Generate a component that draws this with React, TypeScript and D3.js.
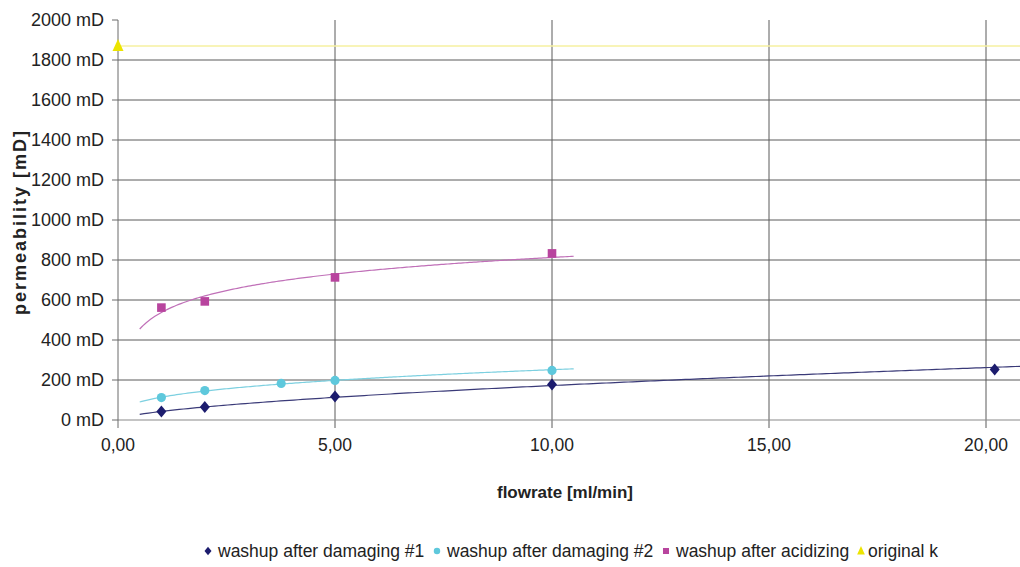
import React from "react";
import * as d3 from "d3";

const W = 1020;
const H = 567;

const yTicks = [0, 200, 400, 600, 800, 1000, 1200, 1400, 1600, 1800, 2000];
const xTicks = [0, 5, 10, 15, 20];

const s1X = [1, 2, 5, 10, 20.2];
const s1Y = [42, 65, 117, 178, 253];
const s2X = [1, 2, 3.76, 5, 10];
const s2Y = [112, 147, 183, 198, 248];
const s3X = [1, 2, 5, 10];
const s3Y = [562, 593, 713, 833];
const origX = [0];
const origY = [1870];

const seriesNames = ["washup after damaging #1", "washup after damaging #2", "washup after acidizing", "original k"];
const colors = ["#1c1c6e", "#5ec8dc", "#b8449e", "#ece400"];
const lineColors = ["#3a3a78", "#7dd0e0", "#c070b8", "#f6f0a0"];

function fit(xs: number[], ys: number[], kind: "log" | "power") {
  const lx = xs.map(Math.log);
  const ly = kind === "power" ? ys.map(Math.log) : ys;
  const mx = d3.mean(lx)!;
  const my = d3.mean(ly)!;
  let sxx = 0, sxy = 0;
  lx.forEach((v, i) => { sxx += (v - mx) ** 2; sxy += (v - mx) * (ly[i] - my); });
  const b = sxy / sxx;
  const a = my - b * mx;
  return kind === "power" ? (x: number) => Math.exp(a + b * Math.log(x)) : (x: number) => a + b * Math.log(x);
}

export default function App() {
  const left = 118, right = 1020, top = 20, bottom = 420;
  const x = d3.scaleLinear().domain([0, 5]).range([left, 335]);
  const xMax = x.invert(right);
  const y = d3.scaleLinear().domain([0, 2000]).range([bottom, top]);
  const fmt = (v: number) => v.toFixed(2).replace(".", ",");

  const trend = (f: (x: number) => number, x0: number, x1: number) => {
    const pts = d3.range(0, 201).map(i => x0 + (x1 - x0) * i / 200);
    return d3.line<number>().x(v => x(v)).y(v => y(f(v)))(pts) || "";
  };
  const f1 = fit(s1X, s1Y, "power");
  const f2 = fit(s2X, s2Y, "power");
  const f3 = fit(s3X, s3Y, "log");

  const font = "'Liberation Sans', Arial, sans-serif";

  const legendItems = [
    { x: 208, tx: 218, kind: "diamond" },
    { x: 437, tx: 447, kind: "circle" },
    { x: 666, tx: 676, kind: "square" },
    { x: 861, tx: 868, kind: "tri" },
  ];
  const marker = (kind: string, cx: number, cy: number, c: string, key: string, sc = 1) => {
    if (kind === "diamond")
      return <path key={key} d={`M0,${-6 * sc}L${5 * sc},0L0,${6 * sc}L${-5 * sc},0Z`} transform={`translate(${cx},${cy})`} fill={c} />;
    if (kind === "circle") return <circle key={key} cx={cx} cy={cy} r={4.6 * sc} fill={c} />;
    if (kind === "square") return <rect key={key} x={cx - 4.3 * sc} y={cy - 4.3 * sc} width={8.6 * sc} height={8.6 * sc} fill={c} />;
    return <path key={key} d={`M0,${-7 * sc}L${5.5 * sc},${5 * sc}L${-5.5 * sc},${5 * sc}Z`} transform={`translate(${cx},${cy})`} fill={c} />;
  };

  return (
    <svg width={W} height={H} style={{ position: "absolute", left: 0, top: 0, background: "#fff" }} fontFamily={font}>
      {yTicks.filter(t => t > 0 && t < 2000).map(t => (
        <line key={"h" + t} x1={left} x2={right} y1={y(t)} y2={y(t)} stroke="#5a5a5a" strokeWidth={1} />
      ))}
      {xTicks.filter(t => t > 0).map(t => (
        <line key={"v" + t} x1={x(t)} x2={x(t)} y1={top} y2={bottom + 8} stroke="#5a5a5a" strokeWidth={1} />
      ))}
      <line x1={left} x2={right} y1={bottom} y2={bottom} stroke="#8a8a8a" strokeWidth={1.2} />
      <line x1={left} x2={left} y1={top} y2={bottom + 8} stroke="#6a6a6a" strokeWidth={1} />
      {yTicks.map(t => (
        <line key={"yt" + t} x1={left - 6} x2={left} y1={y(t)} y2={y(t)} stroke="#6a6a6a" />
      ))}
      {yTicks.map(t => (
        <text key={"yl" + t} x={104} y={y(t)} dy="0.35em" textAnchor="end" fontSize={18} fill="#222">{`${t} mD`}</text>
      ))}
      {xTicks.map(t => (
        <text key={"xl" + t} x={x(t)} y={445} dy="0.35em" textAnchor="middle" fontSize={17.5} fill="#222">{fmt(t)}</text>
      ))}
      <text x={565} y={492} dy="0.35em" textAnchor="middle" fontSize={17} fontWeight="bold" fill="#222">flowrate [ml/min]</text>
      <text transform={`translate(20,222) rotate(-90)`} textAnchor="middle" dy="0.35em" fontSize={18} letterSpacing={2} fontWeight="bold" fill="#222">permeability [mD]</text>

      <line x1={x(origX[0])} x2={right} y1={y(origY[0])} y2={y(origY[0])} stroke={lineColors[3]} strokeWidth={1.5} />

      <path d={trend(f1, 0.5, xMax)} fill="none" stroke={lineColors[0]} strokeWidth={1.2} />
      <path d={trend(f2, 0.5, 10.5)} fill="none" stroke={lineColors[1]} strokeWidth={1.2} />
      <path d={trend(f3, 0.5, 10.5)} fill="none" stroke={lineColors[2]} strokeWidth={1.2} />

      {s1X.map((v, i) => marker("diamond", x(v), y(s1Y[i]), colors[0], "a" + i))}
      {s2X.map((v, i) => marker("circle", x(v), y(s2Y[i]), colors[1], "b" + i))}
      {s3X.map((v, i) => marker("square", x(v), y(s3Y[i]), colors[2], "c" + i))}
      {origX.map((v, i) => marker("tri", x(v), y(origY[i]), colors[3], "d" + i))}

      {legendItems.map((it, i) => (
        <g key={"lg" + i}>
          {marker(it.kind, it.x, 551, colors[i], "lm" + i, 0.7)}
          <text x={it.tx} y={551} dy="0.35em" fontSize={17.5} fill="#222">{seriesNames[i]}</text>
        </g>
      ))}
    </svg>
  );
}
